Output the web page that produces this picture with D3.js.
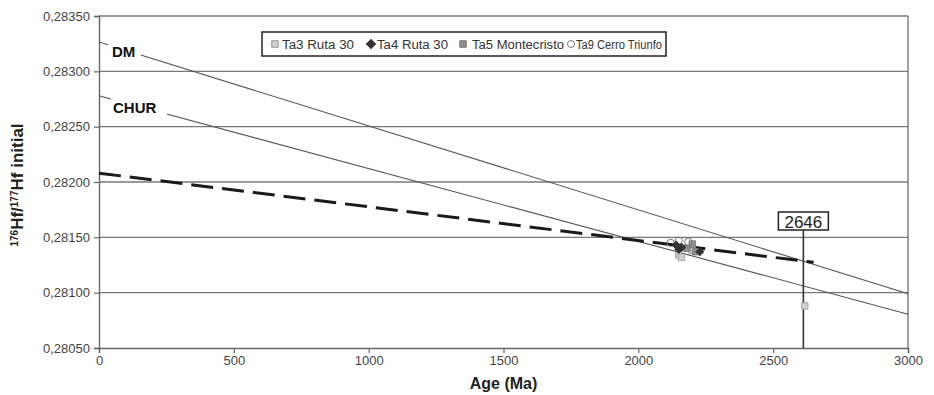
<!DOCTYPE html>
<html>
<head>
<meta charset="utf-8">
<script src="https://cdn.jsdelivr.net/npm/d3@7"></script>
<style>
  body { margin: 0; background: #fff; }
  text { font-family: "Liberation Sans", Arial, sans-serif; }
</style>
</head>
<body>
<svg id="chart" width="934" height="395"></svg>
<script>
// data
const xTicks = [0, 500, 1000, 1500, 2000, 2500, 3000];
const yTicks = [0.2805, 0.2810, 0.2815, 0.2820, 0.2825, 0.2830, 0.2835];

const dmLine = [[0, 0.283265], [3000, 0.28099]];
const churLine = [[0, 0.28278], [3000, 0.280805]];
const trendLine = [[0, 0.28208], [2650, 0.281274]];

const ta3 = [[2150, 0.28134], [2160, 0.28132], [2200, 0.28138], [2617, 0.28088]];
const ta4 = [[2140, 0.28143], [2150, 0.28139], [2160, 0.28141], [2228, 0.28137]];
const ta5 = [[2180, 0.28140], [2200, 0.28144], [2212, 0.28137]];
const ta9 = [[2120, 0.28145], [2150, 0.28147], [2185, 0.28146]];

const markerAge = 2612;       // where the vertical marker sits
const markerLabel = "2646";
const legendNames = ["Ta3 Ruta 30", "Ta4 Ruta 30", "Ta5 Montecristo", "Ta9 Cerro Triunfo"];

const svg = d3.select("#chart");
const m = { top: 16, right: 26, bottom: 47, left: 99 };
const W = 934, H = 395;

const x = d3.scaleLinear().domain([0, 3000]).range([m.left, W - m.right]);
const y = d3.scaleLinear().domain([0.2805, 0.2835]).range([H - m.bottom, m.top]);

const fmt = v => d3.format(".5f")(v).replace(".", ",");

// grid lines
svg.append("g")
  .selectAll("line")
  .data(yTicks.slice(1))
  .join("line")
  .attr("x1", x(0)).attr("x2", x(3000))
  .attr("y1", d => y(d)).attr("y2", d => y(d))
  .attr("stroke", "#777")
  .attr("stroke-width", 1.4);

// right border
svg.append("line")
  .attr("x1", x(3000)).attr("x2", x(3000))
  .attr("y1", y(0.2835)).attr("y2", y(0.2805))
  .attr("stroke", "#777").attr("stroke-width", 1.4);

// axes
const yAxis = svg.append("g")
  .attr("transform", `translate(${m.left},0)`)
  .call(d3.axisLeft(y).tickValues(yTicks).tickFormat(fmt).tickSize(5).tickPadding(4));
const xAxis = svg.append("g")
  .attr("transform", `translate(0,${H - m.bottom})`)
  .call(d3.axisBottom(x).tickValues(xTicks).tickFormat(d3.format("d")).tickSize(5).tickPadding(3));

[yAxis, xAxis].forEach(a => {
  a.select(".domain").attr("stroke", "#666").attr("stroke-width", 1.4);
  a.selectAll(".tick line").attr("stroke", "#666").attr("stroke-width", 1.2);
  a.selectAll(".tick text")
    .attr("fill", "#444")
    .style("font-size", "13px");
});

// model lines
const line = d3.line().x(d => x(d[0])).y(d => y(d[1]));

svg.append("path").datum(dmLine)
  .attr("d", line).attr("fill", "none")
  .attr("stroke", "#555").attr("stroke-width", 1.1);
svg.append("path").datum(churLine)
  .attr("d", line).attr("fill", "none")
  .attr("stroke", "#555").attr("stroke-width", 1.1);

// label gaps + labels
svg.append("rect").attr("x", 108).attr("y", 40).attr("width", 33).attr("height", 20).attr("fill", "#fff");
svg.append("rect").attr("x", 111).attr("y", 92).attr("width", 56).attr("height", 24).attr("fill", "#fff");
svg.append("text").attr("x", 112).attr("y", 57)
  .style("font-size", "15px").style("font-weight", "bold").attr("fill", "#111").text("DM");
svg.append("text").attr("x", 113).attr("y", 113)
  .style("font-size", "15px").style("font-weight", "bold").attr("fill", "#111").text("CHUR");

// trend line
svg.append("path").datum(trendLine)
  .attr("d", line).attr("fill", "none")
  .attr("stroke", "#1a1a1a").attr("stroke-width", 3)
  .attr("stroke-dasharray", "22,9");

// vertical marker
svg.append("line")
  .attr("x1", x(markerAge)).attr("x2", x(markerAge))
  .attr("y1", 230).attr("y2", y(0.2805))
  .attr("stroke", "#333").attr("stroke-width", 1.6);
svg.append("rect")
  .attr("x", x(markerAge) - 25).attr("y", 212)
  .attr("width", 50).attr("height", 18)
  .attr("fill", "#fff").attr("stroke", "#222").attr("stroke-width", 1.5);
svg.append("text")
  .attr("x", x(markerAge)).attr("y", 227.5)
  .attr("text-anchor", "middle")
  .style("font-size", "17px").attr("fill", "#222").text(markerLabel);

// data points
const sq = d3.symbol().type(d3.symbolSquare).size(42);
const dia = d3.symbol().type(d3.symbolSquare).size(42); // rotated 45deg below

svg.append("g").selectAll("path").data(ta3).join("path")
  .attr("d", sq).attr("transform", d => `translate(${x(d[0])},${y(d[1])})`)
  .attr("fill", "#cfcfcf").attr("stroke", "#999").attr("stroke-width", 0.8);
svg.append("g").selectAll("path").data(ta5).join("path")
  .attr("d", sq).attr("transform", d => `translate(${x(d[0])},${y(d[1])})`)
  .attr("fill", "#8c8c8c").attr("stroke", "#777").attr("stroke-width", 0.8);
svg.append("g").selectAll("circle").data(ta9).join("circle")
  .attr("cx", d => x(d[0])).attr("cy", d => y(d[1])).attr("r", 3.6)
  .attr("fill", "none").attr("stroke", "#777").attr("stroke-width", 1);
svg.append("g").selectAll("path").data(ta4).join("path")
  .attr("d", dia).attr("transform", d => `translate(${x(d[0])},${y(d[1])}) rotate(45)`)
  .attr("fill", "#333");

// legend
const lg = svg.append("g");
lg.append("rect").attr("x", 262).attr("y", 32).attr("width", 404).attr("height", 24)
  .attr("fill", "#fff").attr("stroke", "#222").attr("stroke-width", 1.5);
const legendX = [275, 371, 463, 571];
const legendTextX = [282, 377, 472, 576];
const legendTextW = [72, 71, 92, 86];
const ly = 44;
lg.append("path").attr("d", sq).attr("transform", `translate(${legendX[0]},${ly})`)
  .attr("fill", "#cfcfcf").attr("stroke", "#999");
lg.append("path").attr("d", d3.symbol().type(d3.symbolSquare).size(56))
  .attr("transform", `translate(${legendX[1]},${ly}) rotate(45)`)
  .attr("fill", "#333");
lg.append("path").attr("d", sq).attr("transform", `translate(${legendX[2]},${ly})`)
  .attr("fill", "#8c8c8c").attr("stroke", "#777");
lg.append("circle").attr("cx", legendX[3]).attr("cy", ly).attr("r", 3.5)
  .attr("fill", "#fff").attr("stroke", "#777");
lg.selectAll("text").data(legendNames).join("text")
  .attr("x", (d, i) => legendTextX[i]).attr("y", ly + 5)
  .attr("textLength", (d, i) => legendTextW[i])
  .attr("lengthAdjust", "spacingAndGlyphs")
  .style("font-size", "12.5px").attr("fill", "#333").text(d => d);

// axis titles
svg.append("text")
  .attr("x", (x(0) + x(3000)) / 2).attr("y", 389)
  .attr("text-anchor", "middle")
  .style("font-size", "16px").style("font-weight", "bold").attr("fill", "#222")
  .text("Age (Ma)");

const yt = svg.append("text")
  .attr("transform", `translate(23,${(y(0.2805) + y(0.2835)) / 2 + 3}) rotate(-90)`)
  .attr("text-anchor", "middle")
  .style("font-size", "17px").style("font-weight", "bold").attr("fill", "#222");
yt.append("tspan").attr("baseline-shift", "super").style("font-size", "10px").text("176");
yt.append("tspan").text("Hf/");
yt.append("tspan").attr("baseline-shift", "super").style("font-size", "10px").text("177");
yt.append("tspan").text("Hf initial");
</script>
</body>
</html>
